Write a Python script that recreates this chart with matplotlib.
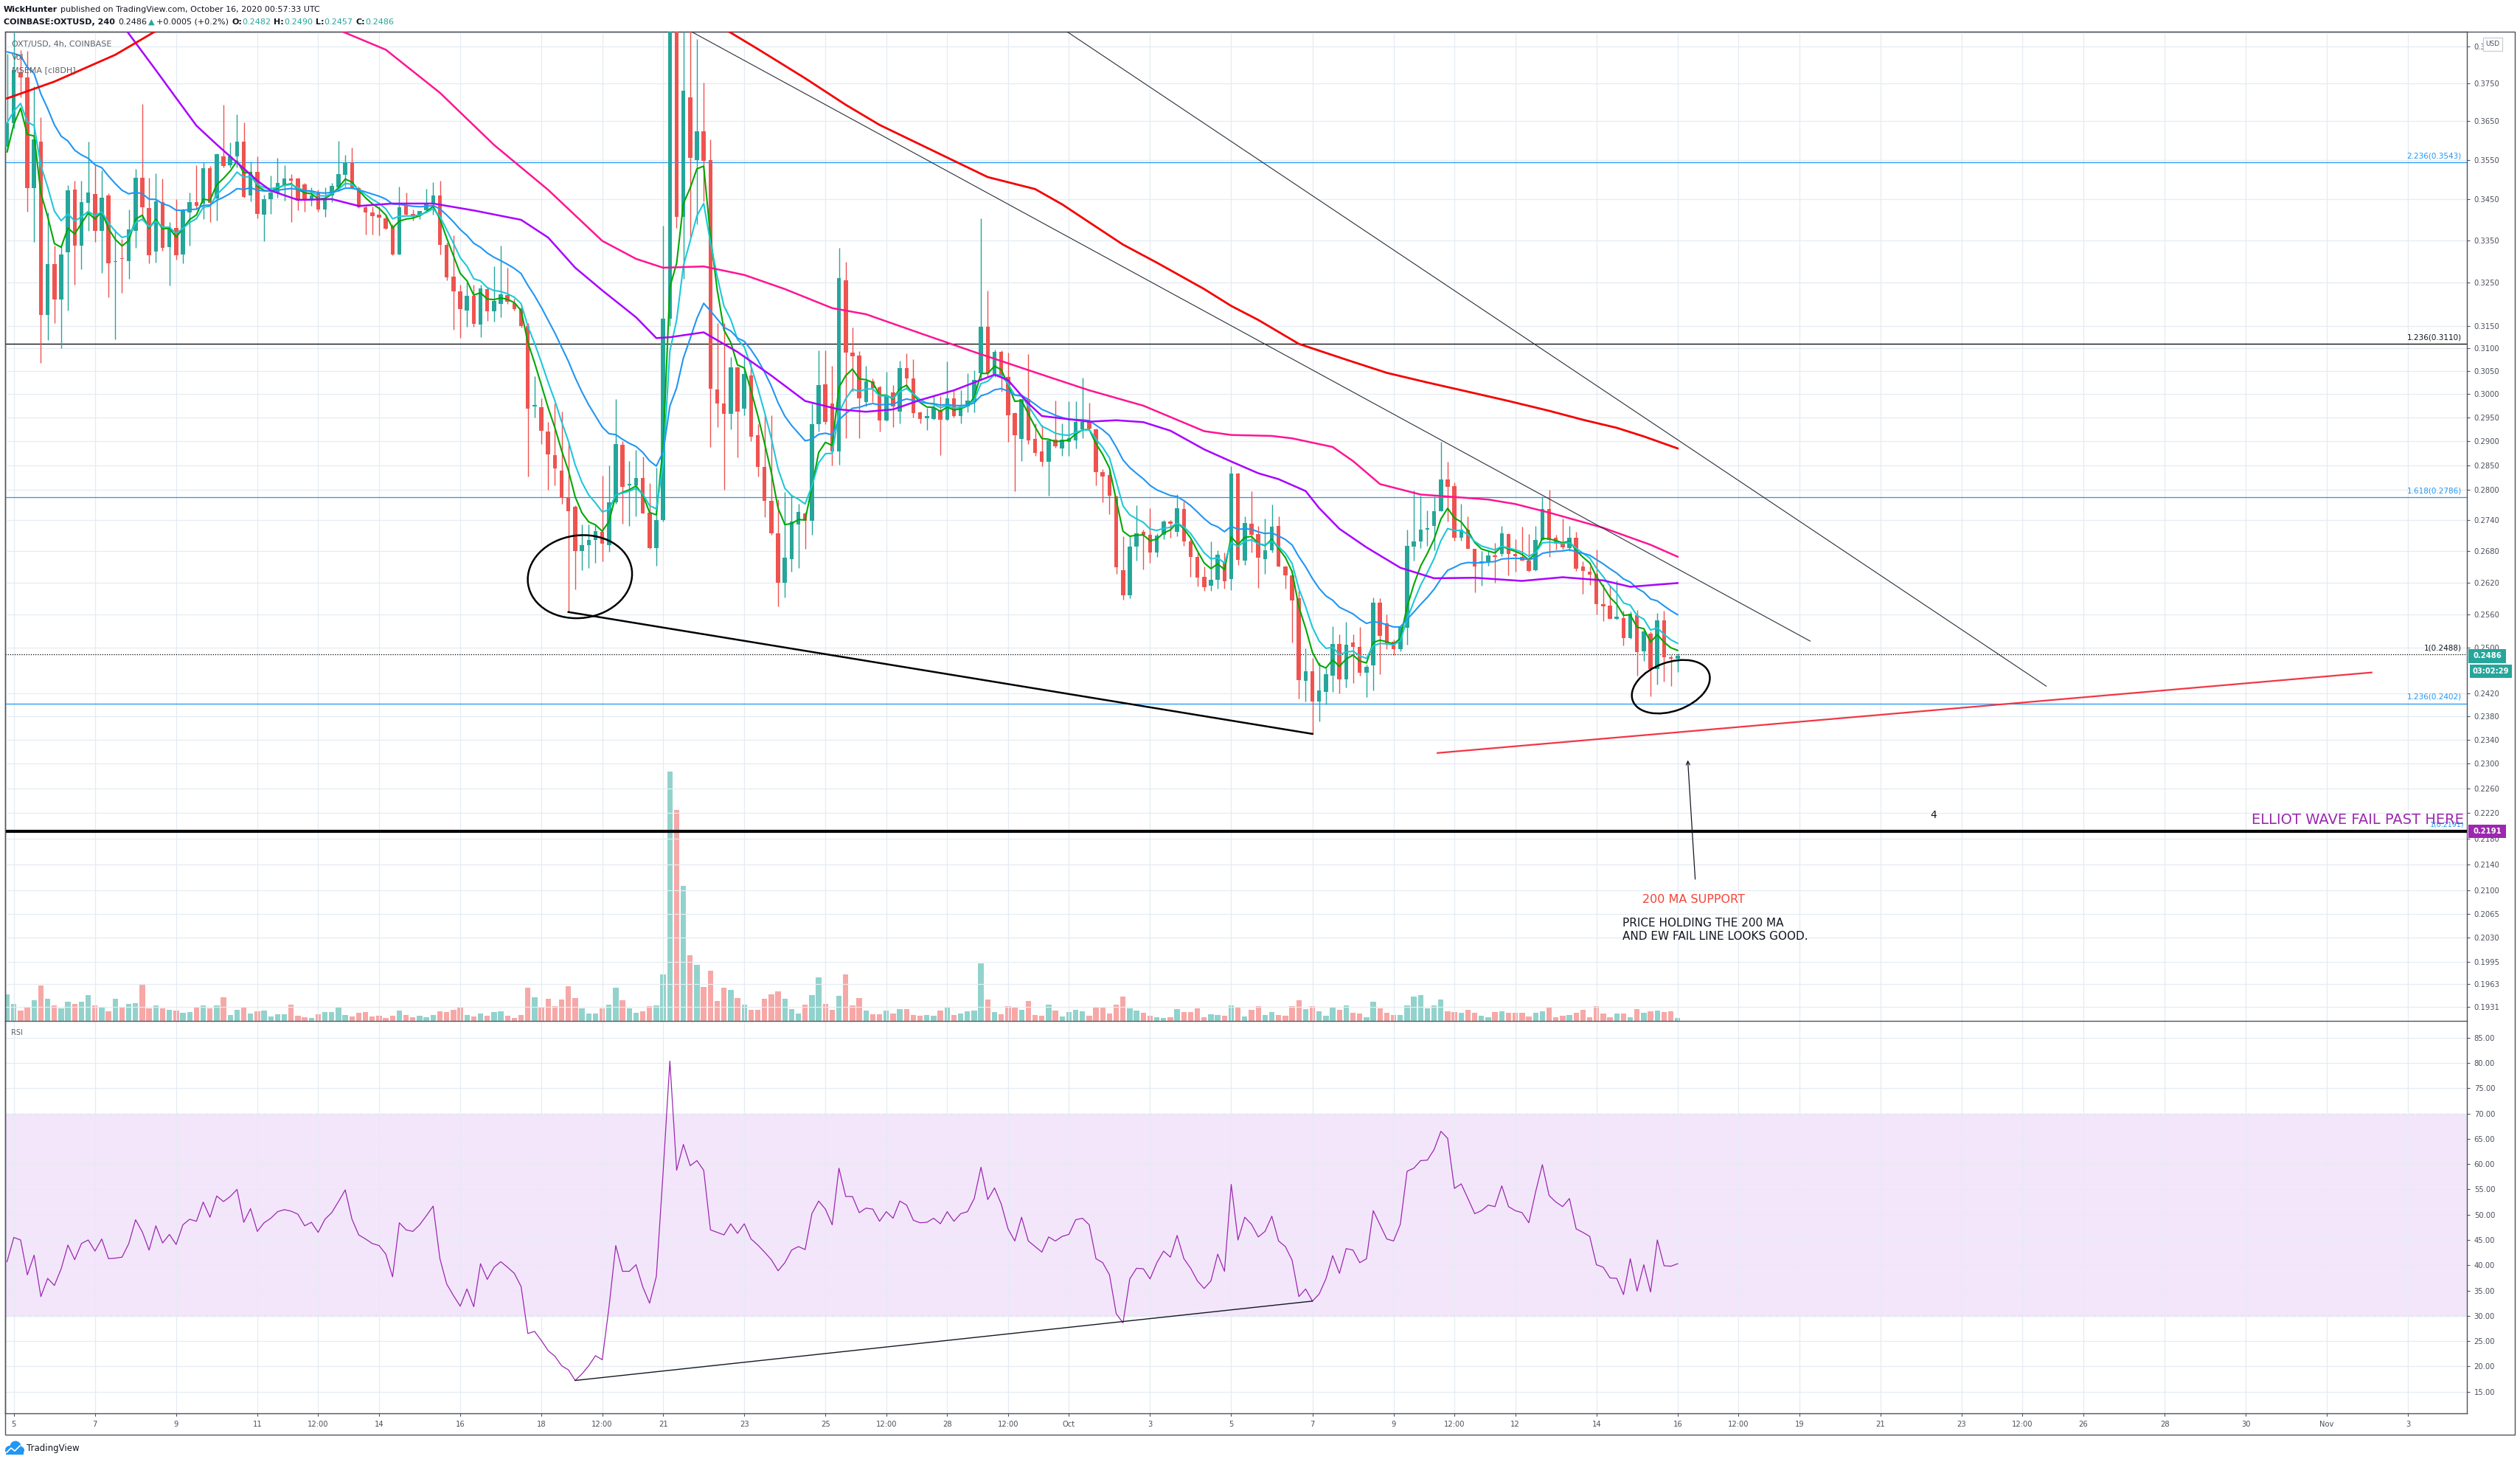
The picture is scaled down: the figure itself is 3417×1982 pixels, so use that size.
import numpy as np
import pandas as pd
import matplotlib
matplotlib.use("Agg")
import matplotlib.pyplot as plt
import matplotlib.dates as mdates
from matplotlib.patches import Ellipse, Rectangle, Circle
from matplotlib.transforms import IdentityTransform, blended_transform_factory
from matplotlib.ticker import FixedLocator, NullLocator, NullFormatter, FuncFormatter

W, H, DPI = 3417, 1982, 100

# ---------------- data (4h candles, COINBASE:OXTUSD) ----------------
start = "2020-09-04 20:00"

opens = [
    .3583, .3645, .3780, .3767, .3478, .3596, .3175, .3293, .3211, .3322,
    .3475, .3337, .3442, .3464, .3373, .3460, .3298, .3308, .3301, .3373,
    .3505, .3429, .3323, .3444, .3334, .3381, .3316, .3418, .3444, .3440,
    .3529, .3453, .3559, .3536, .3559, .3597, .3460, .3519, .3413, .3451,
    .3468, .3485, .3502, .3502, .3488, .3448, .3466, .3425, .3460, .3480,
    .3511, .3544, .3478, .3431, .3418, .3412, .3403, .3384, .3317, .3434,
    .3414, .3412, .3423, .3438, .3460, .3340, .3264, .3229, .3186, .3219,
    .3154, .3234, .3183, .3201, .3221, .3203, .3191, .3150, .2974, .2972,
    .2920, .2871, .2840, .2784, .2766, .2680, .2691, .2701, .2717, .2691,
    .2775, .2892, .2809, .2809, .2824, .2755, .2686, .2741, .3167, .3940,
    .3407, .3713, .3550, .3624, .3549, .3010, .2980, .2957, .3058, .2969,
    .3041, .2913, .2847, .2779, .2715, .2620, .2665, .2731, .2753, .2739,
    .2935, .3021, .2980, .2878, .3256, .3091, .3084, .2983, .3027, .3015,
    .2944, .3003, .2963, .3057, .3034, .2960, .2949, .2947, .2966, .2945,
    .2991, .2953, .2974, .2983, .3045, .3148, .3044, .3093, .3037, .2959,
    .2905, .2989, .2905, .2879, .2857, .2903, .2885, .2898, .2901, .2925,
    .2940, .2925, .2836, .2830, .2787, .2643, .2596, .2689, .2717, .2712,
    .2677, .2712, .2738, .2717, .2762, .2699, .2669, .2631, .2614, .2625,
    .2660, .2626, .2833, .2661, .2733, .2713, .2665, .2682, .2729, .2650,
    .2634, .2590, .2441, .2458, .2405, .2422, .2450, .2507, .2444, .2510,
    .2501, .2455, .2469, .2583, .2545, .2511, .2498, .2536, .2688, .2698,
    .2722, .2729, .2758, .2821, .2808, .2706, .2721, .2684, .2657, .2659,
    .2671, .2674, .2713, .2675, .2669, .2662, .2643, .2701, .2762, .2706,
    .2694, .2685, .2706, .2651, .2641, .2636, .2579, .2577, .2553, .2554,
    .2518, .2559, .2493, .2526, .2462, .2550, .2483, .2481,
]
highs = [
    .3830, .3890, .3840, .3838, .3743, .3659, .3418, .3337, .3337, .3486,
    .3497, .3496, .3596, .3536, .3522, .3466, .3376, .3354, .3426, .3526,
    .3695, .3505, .3516, .3502, .3395, .3451, .3428, .3468, .3536, .3544,
    .3535, .3567, .3693, .3594, .3668, .3647, .3545, .3559, .3462, .3510,
    .3555, .3536, .3513, .3505, .3491, .3480, .3474, .3480, .3491, .3599,
    .3562, .3582, .3482, .3434, .3432, .3432, .3410, .3390, .3482, .3468,
    .3425, .3421, .3477, .3494, .3497, .3345, .3362, .3245, .3250, .3245,
    .3245, .3240, .3289, .3337, .3284, .3212, .3196, .3157, .3038, .2990,
    .2940, .2979, .2962, .2899, .2770, .2732, .2732, .2732, .2829, .2850,
    .2989, .2900, .2859, .2882, .2868, .2814, .2846, .3385, .4000, .3990,
    .3905, .3900, .3872, .3753, .3602, .3157, .3157, .3081, .3060, .3086,
    .3071, .2935, .2955, .2955, .2782, .2796, .2791, .2773, .2757, .2979,
    .3096, .3096, .3061, .3332, .3299, .3147, .3094, .3061, .3034, .3017,
    .3049, .3020, .3072, .3089, .3076, .2962, .2970, .2995, .2995, .3071,
    .3009, .3009, .3045, .3051, .3404, .3231, .3098, .3095, .3091, .2960,
    .2989, .3087, .2938, .2934, .2903, .2986, .2938, .2985, .2985, .3035,
    .2982, .2927, .2842, .2840, .2789, .2709, .2709, .2769, .2722, .2764,
    .2715, .2741, .2741, .2791, .2777, .2703, .2677, .2651, .2698, .2681,
    .2677, .2848, .2835, .2747, .2797, .2728, .2743, .2771, .2748, .2652,
    .2643, .2604, .2499, .2482, .2474, .2464, .2539, .2524, .2547, .2524,
    .2537, .2470, .2592, .2590, .2560, .2515, .2540, .2721, .2799, .2789,
    .2759, .2787, .2898, .2858, .2816, .2772, .2748, .2684, .2680, .2680,
    .2696, .2728, .2715, .2703, .2727, .2713, .2728, .2787, .2800, .2712,
    .2743, .2728, .2717, .2660, .2650, .2683, .2617, .2616, .2624, .2567,
    .2566, .2569, .2533, .2529, .2563, .2568, .2487, .2490,
]
lows = [
    .3571, .3630, .3713, .3420, .3346, .3068, .3118, .3157, .3101, .3185,
    .3245, .3282, .3373, .3346, .3272, .3216, .3121, .3226, .3258, .3332,
    .3398, .3296, .3297, .3325, .3243, .3304, .3296, .3337, .3425, .3401,
    .3395, .3399, .3530, .3530, .3530, .3454, .3445, .3403, .3348, .3415,
    .3455, .3448, .3395, .3424, .3420, .3434, .3420, .3407, .3443, .3471,
    .3482, .3476, .3429, .3365, .3365, .3363, .3377, .3314, .3317, .3410,
    .3399, .3401, .3420, .3413, .3317, .3255, .3142, .3123, .3149, .3149,
    .3126, .3162, .3160, .3170, .3200, .3185, .3147, .2828, .2950, .2894,
    .2800, .2809, .2773, .2565, .2607, .2643, .2648, .2658, .2660, .2678,
    .2773, .2733, .2728, .2748, .2753, .2684, .2652, .2737, .3150, .3380,
    .3258, .3357, .3390, .3445, .2888, .2930, .2800, .2925, .2866, .2955,
    .2900, .2827, .2746, .2711, .2575, .2592, .2641, .2648, .2684, .2711,
    .2920, .2935, .2850, .2852, .2906, .3005, .2906, .2974, .2983, .2920,
    .2942, .2929, .2938, .3013, .2950, .2938, .2923, .2945, .2871, .2943,
    .2950, .2937, .2960, .2961, .3029, .3037, .3037, .3005, .2898, .2798,
    .2859, .2894, .2870, .2848, .2789, .2887, .2870, .2870, .2885, .2907,
    .2925, .2809, .2776, .2752, .2636, .2588, .2591, .2662, .2645, .2658,
    .2669, .2703, .2705, .2709, .2690, .2631, .2613, .2604, .2604, .2609,
    .2609, .2606, .2653, .2653, .2677, .2610, .2637, .2677, .2650, .2609,
    .2510, .2411, .2405, .2350, .2371, .2400, .2422, .2420, .2430, .2438,
    .2450, .2413, .2425, .2453, .2498, .2487, .2493, .2505, .2661, .2685,
    .2690, .2682, .2758, .2738, .2700, .2700, .2684, .2601, .2614, .2652,
    .2620, .2670, .2634, .2641, .2661, .2640, .2642, .2701, .2669, .2683,
    .2683, .2680, .2642, .2599, .2616, .2561, .2549, .2552, .2551, .2504,
    .2516, .2451, .2476, .2414, .2435, .2440, .2432, .2457,
]
closes = [
    .3645, .3786, .3767, .3478, .3603, .3175, .3293, .3211, .3316, .3472,
    .3337, .3443, .3467, .3373, .3455, .3296, .3301, .3305, .3376, .3505,
    .3431, .3315, .3445, .3332, .3382, .3315, .3421, .3444, .3435, .3529,
    .3442, .3565, .3534, .3559, .3597, .3457, .3519, .3415, .3451, .3468,
    .3492, .3502, .3496, .3448, .3448, .3460, .3426, .3455, .3483, .3513,
    .3544, .3478, .3431, .3418, .3409, .3406, .3379, .3317, .3430, .3412,
    .3409, .3421, .3440, .3460, .3340, .3263, .3229, .3188, .3219, .3155,
    .3237, .3183, .3208, .3222, .3205, .3188, .3150, .2969, .2977, .2922,
    .2873, .2844, .2784, .2758, .2680, .2691, .2701, .2719, .2694, .2775,
    .2894, .2807, .2811, .2824, .2753, .2686, .2741, .3167, .3940, .3407,
    .3730, .3555, .3624, .3547, .3012, .2980, .2957, .3058, .2963, .3044,
    .2909, .2847, .2779, .2715, .2620, .2667, .2737, .2757, .2739, .2935,
    .3019, .2940, .2878, .3261, .3091, .3083, .2990, .3027, .3013, .2943,
    .2997, .2973, .3056, .3034, .2959, .2947, .2953, .2970, .2945, .2991,
    .2953, .2974, .2986, .3030, .3148, .3045, .3093, .3037, .2955, .2912,
    .2989, .2901, .2875, .2857, .2901, .2889, .2903, .2907, .2940, .2940,
    .2927, .2836, .2827, .2789, .2649, .2596, .2689, .2715, .2712, .2677,
    .2710, .2738, .2733, .2764, .2699, .2669, .2630, .2611, .2625, .2673,
    .2623, .2833, .2663, .2734, .2712, .2667, .2682, .2727, .2650, .2633,
    .2586, .2442, .2458, .2405, .2424, .2453, .2507, .2444, .2506, .2501,
    .2455, .2466, .2583, .2522, .2505, .2498, .2538, .2690, .2699, .2721,
    .2724, .2758, .2821, .2806, .2706, .2721, .2684, .2651, .2659, .2672,
    .2669, .2714, .2674, .2670, .2662, .2642, .2701, .2762, .2701, .2694,
    .2687, .2705, .2646, .2642, .2635, .2579, .2575, .2552, .2554, .2518,
    .2562, .2492, .2529, .2462, .2550, .2483, .2480, .2486,
]
# volume in thousand OXT
volume = [
    70, 46, 28, 37, 54, 95, 58, 41, 33, 50,
    45, 50, 68, 42, 35, 25, 58, 37, 46, 48,
    98, 33, 42, 33, 29, 27, 21, 23, 37, 42,
    33, 42, 62, 15, 29, 35, 19, 25, 27, 11,
    17, 17, 44, 13, 9, 7, 17, 23, 23, 37,
    15, 11, 21, 23, 11, 13, 7, 13, 27, 15,
    9, 13, 9, 15, 25, 23, 29, 35, 15, 11,
    19, 13, 23, 25, 13, 7, 15, 88, 62, 37,
    58, 39, 56, 93, 60, 33, 19, 19, 33, 44,
    88, 54, 33, 21, 25, 39, 41, 123, 662, 560,
    358, 174, 148, 91, 133, 52, 89, 82, 60, 44,
    29, 29, 58, 70, 78, 58, 31, 19, 44, 68,
    115, 46, 29, 66, 123, 42, 60, 27, 17, 17,
    27, 19, 31, 31, 15, 13, 15, 13, 27, 37,
    15, 19, 25, 27, 152, 56, 23, 17, 39, 37,
    29, 52, 15, 13, 44, 27, 11, 23, 29, 25,
    13, 35, 37, 19, 44, 64, 33, 27, 21, 13,
    9, 7, 9, 31, 23, 23, 33, 9, 17, 15,
    13, 42, 37, 11, 29, 39, 15, 23, 15, 13,
    39, 54, 31, 39, 25, 13, 35, 29, 42, 21,
    19, 9, 50, 33, 21, 15, 15, 42, 64, 68,
    33, 41, 56, 25, 23, 21, 29, 21, 13, 9,
    23, 25, 21, 21, 21, 11, 21, 25, 37, 9,
    13, 15, 21, 29, 9, 39, 19, 9, 19, 19,
    9, 31, 21, 25, 27, 23, 25, 7,
]
rsi = [
    40.7, 45.5, 45.0, 38.1, 42.0, 33.8, 37.4, 36.0, 39.3, 44.0,
    41.1, 44.3, 45.0, 42.8, 45.2, 41.3, 41.4, 41.6, 44.3, 49.0,
    46.6, 43.0, 47.8, 44.4, 46.1, 44.1, 48.0, 49.1, 48.7, 52.5,
    49.5, 53.7, 52.6, 53.6, 55.0, 48.5, 51.2, 46.7, 48.4, 49.3,
    50.6, 51.0, 50.7, 50.1, 47.8, 48.5, 46.5, 49.1, 50.4, 52.6,
    54.9, 49.1, 46.0, 45.2, 44.3, 43.9, 42.2, 37.7, 48.4, 47.0,
    46.7, 48.0, 49.8, 51.7, 41.3, 36.3, 34.0, 31.9, 35.3, 31.8,
    40.3, 37.2, 39.6, 40.7, 39.6, 38.4, 35.8, 26.5, 26.9, 25.1,
    23.1, 22.0, 20.1, 19.3, 17.2, 18.5, 20.1, 22.1, 21.3, 31.7,
    43.9, 38.8, 38.8, 40.1, 35.7, 32.5, 37.8, 58.4, 80.4, 58.8,
    63.9, 59.7, 60.7, 58.8, 47.0, 46.5, 46.0, 48.2, 46.3, 48.2,
    45.2, 44.0, 42.6, 41.1, 38.9, 40.5, 43.0, 43.7, 43.1, 50.2,
    52.7, 51.1, 48.0, 59.2, 53.6, 53.6, 50.4, 51.3, 51.1, 48.7,
    50.6, 49.3, 52.7, 51.9, 48.9, 48.4, 48.5, 49.3, 48.2, 50.6,
    48.7, 50.2, 50.6, 53.2, 59.4, 53.0, 55.3, 52.1, 47.2, 44.8,
    49.5, 44.8, 43.7, 42.6, 45.6, 44.8, 45.7, 46.1, 49.0, 49.3,
    48.0, 41.3, 40.5, 38.1, 30.4, 28.6, 37.3, 39.4, 39.3, 37.3,
    40.5, 42.8, 41.6, 45.9, 41.3, 39.4, 36.9, 35.4, 36.9, 42.2,
    38.8, 56.0, 45.0, 49.5, 48.1, 45.6, 46.7, 49.7, 44.8, 43.7,
    41.0, 33.8, 35.3, 32.9, 34.3, 37.3, 41.9, 38.4, 43.3, 43.0,
    40.5, 41.3, 50.8, 48.0, 45.2, 44.8, 48.1, 58.6, 59.2, 60.7,
    60.8, 62.9, 66.5, 65.1, 55.2, 56.1, 53.2, 50.2, 50.8, 51.9,
    51.6, 55.7, 51.6, 50.8, 50.4, 48.4, 54.5, 59.9, 53.8, 52.5,
    51.6, 53.2, 47.2, 46.5, 45.7, 40.1, 39.6, 37.5, 37.4, 34.2,
    41.3, 34.9, 40.1, 34.7, 45.0, 39.9, 39.8, 40.3,
]

# short EMAs of the close (MSEMA): periods and their values at the first candle
ema_spans = [5, 8, 21]
ema_start = [0.3570, 0.3645, 0.3836]

# longer averages (candle number -> value)
purple_k = [17, 22, 25, 28, 31, 34, 37, 39, 43, 48, 52, 57, 63, 69, 76, 80, 84, 88,
            93, 96, 98, 103, 108, 113, 118, 123, 127, 131, 135, 140, 146, 148, 151,
            153, 160, 164, 168, 172, 177, 181, 185, 188, 192, 194, 197, 201, 206,
            211, 217, 224, 230, 236, 240, 247]
purple_v = [.3912, .3786, .3711, .3638, .3589, .3543, .3497, .3472, .3449, .3451,
            .3434, .3440, .3440, .3423, .3400, .3357, .3285, .3232, .3170, .3123,
            .3125, .3136, .3092, .3040, .2985, .2967, .2962, .2967, .2987, .3008,
            .3042, .3030, .2980, .2953, .2941, .2944, .2940, .2922, .2883, .2858,
            .2834, .2822, .2798, .2764, .2723, .2687, .2648, .2628, .2629, .2623,
            .2630, .2624, .2612, .2619]
pink_k = [48, 56, 64, 72, 80, 88, 93, 97, 103, 109, 115, 122, 127, 135, 143, 152,
          160, 168, 177, 181, 187, 190, 196, 199, 203, 209, 214, 219, 223, 228, 236,
          243, 247]
pink_v = [.3905, .3842, .3725, .3588, .3474, .3349, .3306, .3285, .3288, .3268,
          .3235, .3191, .3177, .3134, .3092, .3047, .3008, .2975, .2921, .2913,
          .2911, .2906, .2888, .2859, .2812, .2791, .2786, .2781, .2772, .2755,
          .2725, .2692, .2669]
red_k = [0, 7, 16, 23, 60, 105, 111, 118, 124, 129, 145, 152, 156, 160, 165, 170,
         177, 181, 185, 191, 198, 204, 210, 216, 222, 228, 233, 238, 242, 247]
red_v = [.3710, .3755, .3828, .3905, np.nan, .3912, .3844, .3764, .3693, .3640,
         .3506, .3476, .3438, .3394, .3340, .3297, .3235, .3196, .3164, .3110,
         .3075, .3046, .3025, .3005, .2985, .2964, .2945, .2928, .2910, .2885]

fib_levels = [0.3543, 0.3110, 0.2786, 0.2488, 0.2402, 0.2191]
fib_ratios = ["2.236", "1.236", "1.618", "1", "1.236", "1"]

price_ticks = [0.3850, 0.3750, 0.3650, 0.3550, 0.3450, 0.3350, 0.3250, 0.3150, 0.3100,
               0.3050, 0.3000, 0.2950, 0.2900, 0.2850, 0.2800, 0.2740, 0.2680, 0.2620,
               0.2560, 0.2500, 0.2420, 0.2380, 0.2340, 0.2300, 0.2260, 0.2220,
               0.2180, 0.2140, 0.2100, 0.2065, 0.2030, 0.1995, 0.1963, 0.1931]
rsi_ticks = [15, 20, 25, 30, 35, 40, 45, 50, 55, 60, 65, 70, 75, 80, 85]
day_ticks = [0, 2, 4, 6, 7.5, 9, 11, 13, 14.5, 16, 18, 20, 21.5, 23, 24.5, 26, 28, 30,
             32, 34, 35.5, 37, 39, 41, 42.5, 44, 46, 48, 49.5, 51, 53, 55, 57, 59]
day_labels = ["5", "7", "9", "11", "12:00", "14", "16", "18", "12:00", "21", "23", "25",
              "12:00", "28", "12:00", "Oct", "3", "5", "7", "9", "12:00", "12", "14",
              "16", "12:00", "19", "21", "23", "12:00", "26", "28", "30", "Nov", "3"]

# user drawings: (candle number, price)
line_a = [(150, 0.3978), (301.5, 0.2432)]
line_b = [(101.2, 0.3892), (266.6, 0.2512)]
line_ma = [(211.5, 0.2318), (349.6, 0.2456)]
wedge_idx = (83, 193)
rsi_line_idx = (84, 193)
arrow_from, arrow_to = (249.6, 0.2117), (248.5, 0.2306)

TEAL, RED = "#26a69a", "#ef5350"
FIB_BLUE = "#2196f3"
GRID = "#e4ecf2"
AXC = "#50535e"
TXT = "#131722"
LBL = "#4a4f5c"

# ---------------- figure ----------------
def fy(y):
    return 1 - y / H

fig = plt.figure(figsize=(W / DPI, H / DPI), dpi=DPI, facecolor="white")
L, R = 7, 3345
TOP, MID, BOT = 43, 1384, 1916
ax = fig.add_axes([L / W, fy(MID), (R - L) / W, (MID - TOP) / H])
vax = ax.twinx()
ar = fig.add_axes([L / W, fy(BOT), (R - L) / W, (BOT - MID) / H], sharex=ax)

o, h, l, c = (np.array(v) for v in (opens, highs, lows, closes))
t = mdates.date2num(pd.date_range(start, periods=len(c), freq="4h"))
t0 = t[0]
step = 1 / 6.0
def kx(k):
    return t0 + np.asarray(k, dtype=float) * step

up = c >= o
col = np.where(up, TEAL, RED)

# volume overlay
vax.bar(t, volume, width=0.8 * step, color=col, alpha=0.5, lw=0)
vax.set_ylim(0, 2628)
vax.axis("off")
ax.set_zorder(vax.get_zorder() + 1)
ax.patch.set_visible(False)

# candles
ax.vlines(t, l, h, colors=col, lw=1.0, zorder=3)
body = np.maximum(np.abs(c - o), 0.0003)
ax.bar(t, body, bottom=np.minimum(o, c), width=0.6 * step, color=col, lw=0, zorder=3.5)

# moving averages
def ema(values, span, first):
    a = 2.0 / (span + 1)
    out = [first]
    for v in values[1:]:
        out.append(out[-1] + a * (v - out[-1]))
    return np.array(out)

for span, first, color in zip(ema_spans, ema_start, ["#00a800", "#1ec8d8", "#2196f3"]):
    ax.plot(t, ema(c, span, first), color=color, lw=1.5, zorder=4)
ax.plot(kx(purple_k), purple_v, color="#aa00ff", lw=1.8, zorder=4)
ax.plot(kx(pink_k), pink_v, color="#ff1493", lw=1.8, zorder=4)
ax.plot(kx(red_k), red_v, color="#f50000", lw=2.0, zorder=4)

# fib levels
bt = blended_transform_factory(ax.transAxes, ax.transData)
for lev, ratio in zip(fib_levels, fib_ratios):
    if lev == 0.2191:
        ax.axhline(lev, color="black", lw=3.0, zorder=2)
        ax.text(0.9988, lev * 1.002, f"{ratio}({lev:.4f})", transform=bt, ha="right",
                va="bottom", fontsize=6.8, color=FIB_BLUE, zorder=6)
        continue
    black = lev in (0.3110, 0.2488)
    ax.axhline(lev, color="black" if black else FIB_BLUE, lw=0.9,
               ls=(0, (1, 1.5)) if lev == 0.2488 else "-", zorder=2)
    ax.text(0.9979, lev * 1.002, f"{ratio}({lev:.4f})", transform=bt, ha="right",
            va="bottom", fontsize=7.5, color=TXT if black else FIB_BLUE, zorder=6)

# drawings
for (k1, p1), (k2, p2) in (line_a, line_b):
    ax.plot(kx([k1, k2]), [p1, p2], color="#2a2e39", lw=0.8, zorder=5)
ax.plot(kx([line_ma[0][0], line_ma[1][0]]), [line_ma[0][1], line_ma[1][1]],
        color="#f23645", lw=1.6, zorder=5)
ax.plot(kx(list(wedge_idx)), l[list(wedge_idx)], color="black", lw=1.8, zorder=5)
ax.annotate("", xy=(kx(arrow_to[0]), arrow_to[1]), xytext=(kx(arrow_from[0]), arrow_from[1]),
            arrowprops=dict(arrowstyle="->", color=TXT, lw=0.9, mutation_scale=9,
                            shrinkA=0, shrinkB=0), zorder=6)
ax.text(kx(284.8), 0.2217, "4", fontsize=10, color=TXT, ha="center", va="center", zorder=6)

# price axis
ax.set_yscale("log")
ax.set_ylim(0.19121, 0.3892)
ax.set_xlim(t0 - 0.28 * step, t0 + 363.7 * step)
ax.yaxis.tick_right()
ax.yaxis.set_major_locator(FixedLocator(price_ticks))
ax.yaxis.set_major_formatter(FuncFormatter(lambda v, p: f"{v:.4f}"))
ax.yaxis.set_minor_locator(NullLocator())
ax.yaxis.set_minor_formatter(NullFormatter())
ax.tick_params(axis="y", length=3, width=0.8, color=AXC, labelsize=7.2, labelcolor=LBL, pad=4)
ax.tick_params(axis="x", bottom=False, labelbottom=False)
xt = t0 + step + np.array(day_ticks)
ax.set_xticks(xt)
ax.grid(True, color=GRID, lw=0.9, zorder=0)
for side in ("left", "right", "top", "bottom"):
    ax.spines[side].set_color(AXC)
    ax.spines[side].set_linewidth(1.0)

# RSI pane
ar.axhspan(30, 70, color="#f3e6fb", lw=0, zorder=1)
for lv in (30, 70):
    ar.axhline(lv, color="#b9a3c9", lw=0.9, ls=(0, (4, 4)), zorder=1.5)
ar.plot(t, rsi, color="#9c27b0", lw=0.9, zorder=3)
ar.plot(kx(list(rsi_line_idx)), [rsi[i] for i in rsi_line_idx], color=TXT, lw=1.0, zorder=4)
ar.set_ylim(10.7, 88.35)
ar.yaxis.tick_right()
ar.set_yticks(rsi_ticks)
ar.yaxis.set_major_formatter(FuncFormatter(lambda v, p: f"{v:.2f}"))
ar.tick_params(axis="y", length=3, width=0.8, color=AXC, labelsize=7.2, labelcolor=LBL, pad=4)
ar.set_xticks(xt)
ar.set_xticklabels(day_labels)
ar.tick_params(axis="x", length=3, width=0.8, color=AXC, labelsize=7.2, labelcolor=LBL, pad=4.5)
ar.grid(True, color=GRID, lw=0.9, zorder=0)
ar.spines["top"].set_visible(False)
for side in ("left", "right", "bottom"):
    ar.spines[side].set_color(AXC)
    ar.spines[side].set_linewidth(1.0)

# outer frame
fig.add_artist(Rectangle((6.5 / W, fy(1945)), (3410 - 6.5) / W, (1945 - TOP) / H,
                         transform=fig.transFigure, fill=False, ec=AXC, lw=1.0))

# texts
def ftext(x, y, s, **kw):
    return fig.text(x / W, fy(y), s, **kw)

rend = fig.canvas.get_renderer()
def seq(x, y, parts, size=8):
    for s_, color, weight, gap in parts:
        tt = ftext(x, y, s_, color=color, fontweight=weight, fontsize=size, va="center", ha="left")
        x += tt.get_window_extent(rend).width + gap

seq(5, 13, [("WickHunter", TXT, "bold", 4),
            ("published on TradingView.com, October 16, 2020 00:57:33 UTC", TXT, "normal", 0)])
seq(5, 30, [("COINBASE:OXTUSD, 240", TXT, "bold", 4), ("0.2486", TXT, "normal", 2),
            ("\u25b2", TEAL, "normal", 3), ("+0.0005 (+0.2%)", TXT, "normal", 4),
            ("O:", TXT, "bold", 0), ("0.2482", TEAL, "normal", 4),
            ("H:", TXT, "bold", 0), ("0.2490", TEAL, "normal", 4),
            ("L:", TXT, "bold", 0), ("0.2457", TEAL, "normal", 4),
            ("C:", TXT, "bold", 0), ("0.2486", TEAL, "normal", 0)])
for yy, s_ in ((60, "OXT/USD, 4h, COINBASE"), (78, "Vol"), (95, "MSEMA [cl8DH]")):
    ftext(16, yy, s_, fontsize=8, color="#5d606b", va="center", ha="left")
ftext(15, 1400, "RSI", fontsize=7, color="#5d606b", va="center", ha="left")

ftext(3341, 1117, "ELLIOT WAVE FAIL PAST HERE", fontsize=14, color="#9c27b0",
      ha="right", va="baseline")
ftext(2227, 1220, "200 MA SUPPORT", fontsize=11.5, color="#f44336", ha="left", va="center")
ftext(2200, 1260, "PRICE HOLDING THE 200 MA\nAND EW FAIL LINE LOOKS GOOD.", fontsize=11,
      color=TXT, ha="left", va="center", linespacing=1.25)

def box(x0, y0, x1, y1, fc, text, tc="white", ec="none", size=7.2, weight="bold"):
    fig.add_artist(Rectangle((x0 / W, fy(y1)), (x1 - x0) / W, (y1 - y0) / H,
                             transform=fig.transFigure, fc=fc, ec=ec, lw=0.8, zorder=10))
    ftext((x0 + x1) / 2, (y0 + y1) / 2, text, color=tc, fontsize=size, fontweight=weight,
          ha="center", va="center", zorder=11)

box(3347, 880, 3398, 899, TEAL, "0.2486")
box(3349, 901, 3406, 919, TEAL, "03:02:29")
box(3347, 1118, 3398, 1136, "#9c27b0", "0.2191")
box(3367, 51, 3393, 69, "white", "USD", tc=LBL, ec="#c5c8ce", size=6.5, weight="normal")

# TradingView mark
TVB = "#2196f3"
for cx, cy, r in ((13, 1966, 6), (21, 1961, 7.5), (28, 1966, 5)):
    fig.add_artist(Circle((cx, H - cy), r, transform=IdentityTransform(), fc=TVB, ec="none"))
fig.add_artist(Rectangle((8, H - 1972), 24, 6, transform=IdentityTransform(), fc=TVB, ec="none"))
zz = np.array([(9, 1969), (15, 1963), (20, 1967), (27, 1960)], dtype=float)
fig.add_artist(plt.Line2D(zz[:, 0], H - zz[:, 1], transform=IdentityTransform(),
                          color="white", lw=1.2))
ftext(36, 1963, "TradingView", fontsize=8.5, color=TXT, ha="left", va="center")

# circles drawn on the chart (size in pixels)
for k, p, w, hh, ang in ((84.7, 0.2631, 142, 112, 8), (246.0, 0.2431, 110, 66, 20)):
    cxy = ax.transData.transform((kx(k), p))
    ax.add_patch(Ellipse(cxy, w, hh, angle=ang, transform=IdentityTransform(),
                         fill=False, ec="black", lw=1.8, zorder=6))

fig.savefig("out.png", dpi=DPI, facecolor="white")
